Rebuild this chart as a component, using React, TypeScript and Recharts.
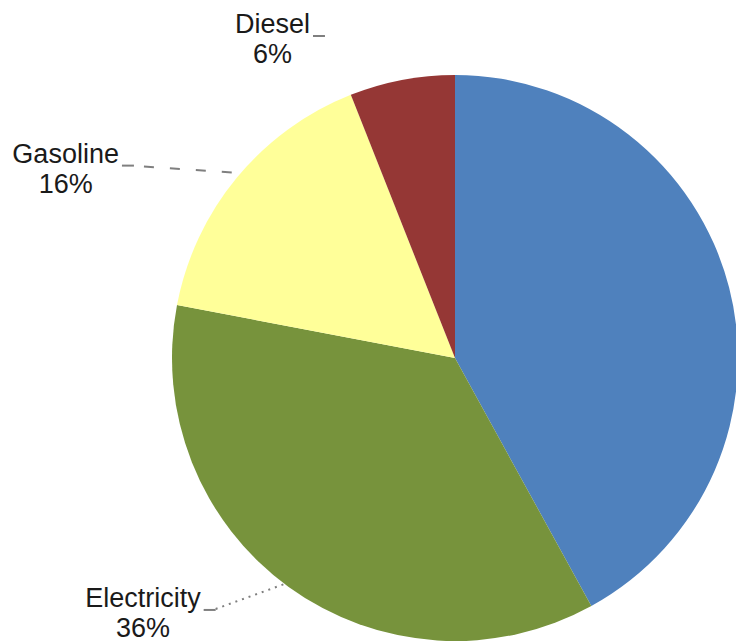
import { PieChart, Pie, Cell } from 'recharts';

// Share of energy use by source
const categories = ['Natural Gas', 'Electricity', 'Gasoline', 'Diesel'];
const shares = [42, 36, 16, 6];
const colors = ['#4F81BD', '#77933C', '#FFFF99', '#953735'];

const data = categories.map((name, i) => ({ name, value: shares[i] }));

// label placement, relative to the point where the slice's mid-angle meets the rim
const labelLayout: Record<string, { dx: number; dy: number; leader: 'dash' | 'dot' | 'none' }> = {
  Electricity: { dx: -88, dy: 20, leader: 'dot' },
  Gasoline: { dx: -118, dy: -15, leader: 'dash' },
  Diesel: { dx: -92, dy: -47, leader: 'none' },
};

const FONT = "'Liberation Sans', Arial, sans-serif";
const FONT_SIZE = 27;
const RAD = Math.PI / 180;

let measureCtx: CanvasRenderingContext2D | null = null;
function textWidth(s: string) {
  if (!measureCtx) measureCtx = document.createElement('canvas').getContext('2d');
  if (!measureCtx) return s.length * FONT_SIZE * 0.5;
  measureCtx.font = `${FONT_SIZE}px ${FONT}`;
  return measureCtx.measureText(s).width;
}

function renderLabel(props: any) {
  const { cx, cy, midAngle, outerRadius, name, percent } = props;
  const layout = labelLayout[name];
  if (!layout) return null;

  const ex = cx + outerRadius * Math.cos(-midAngle * RAD);
  const ey = cy + outerRadius * Math.sin(-midAngle * RAD);
  const tx = ex + layout.dx; // right end of the name
  const ty = ey + layout.dy; // baseline of the name
  const w = textWidth(name);
  const lx = tx + 3;
  const ly = ty + 3;

  return (
    <g key={`label-${name}`}>
      <text x={tx} y={ty} textAnchor="end" fontFamily={FONT} fontSize={FONT_SIZE} fill="#1a1a1a">
        {name}
      </text>
      <text x={tx - w / 2} y={ty + 30} textAnchor="middle" fontFamily={FONT} fontSize={FONT_SIZE} fill="#1a1a1a">
        {`${Math.round(percent * 100)}%`}
      </text>
      <line x1={lx} y1={ly} x2={lx + 12} y2={ly} stroke="#7f7f7f" strokeWidth={2} />
      {layout.leader === 'dash' && (
        <line x1={lx + 22} y1={ly + 1} x2={ex - 4} y2={ey - 5} stroke="#7f7f7f" strokeWidth={2} strokeDasharray="10 16" />
      )}
      {layout.leader === 'dot' && (
        <line x1={lx + 12} y1={ly - 1} x2={ex - 4} y2={ey - 3} stroke="#7f7f7f" strokeWidth={2} strokeDasharray="2 5" />
      )}
    </g>
  );
}

export default function App() {
  return (
    <div style={{ position: 'absolute', left: 0, top: 0, width: 736, height: 643, background: '#fff' }}>
      <PieChart width={736} height={643} margin={{ top: 0, right: 0, bottom: 0, left: 0 }}>
        <Pie
          data={data}
          dataKey="value"
          nameKey="name"
          cx={455}
          cy={358}
          outerRadius={283}
          startAngle={90}
          endAngle={-270}
          stroke="none"
          label={renderLabel}
          labelLine={false}
          isAnimationActive={false}
        >
          {data.map((entry, index) => (
            <Cell key={`cell-${index}`} fill={colors[index]} />
          ))}
        </Pie>
      </PieChart>
    </div>
  );
}
